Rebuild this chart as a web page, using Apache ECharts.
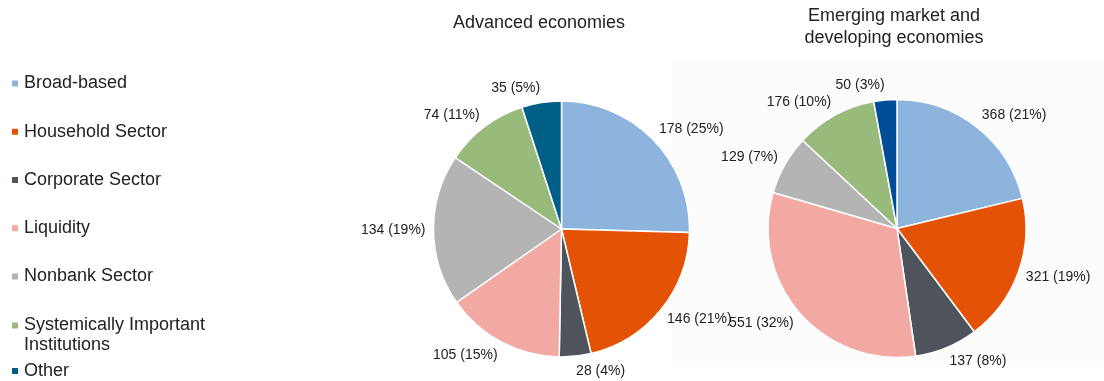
<!DOCTYPE html>
<html>
<head>
<meta charset="utf-8">
<script src="https://cdn.jsdelivr.net/npm/echarts@6/dist/echarts.min.js"></script>
<style>
  html, body { margin: 0; padding: 0; background: #ffffff; }
  #chart { width: 1104px; height: 381px; }
</style>
</head>
<body>
<div id="chart"></div>
<script>
// Macroprudential measures by type
const categories = [
  'Broad-based',
  'Household Sector',
  'Corporate Sector',
  'Liquidity',
  'Nonbank Sector',
  'Systemically Important Institutions',
  'Other'
];
const advancedValues = [178, 146, 28, 105, 134, 74, 35];
const emergingValues = [368, 321, 137, 551, 129, 176, 50];

const advancedColors = ['#8cb4dc', '#e35205', '#4f535c', '#f2a8a3', '#b3b4b3', '#98ba7b', '#005f87'];
const emergingColors = ['#8cb4dc', '#e35205', '#4f535c', '#f2a8a3', '#b3b4b3', '#98ba7b', '#004c97'];

const FONT = '"Liberation Sans", Arial, sans-serif';
const TEXT = '#222222';
const LABEL_LEN = 8;

const chart = echarts.init(document.getElementById('chart'), null, { renderer: 'canvas' });

function buildData(values, colors) {
  return categories.map((name, i) => ({
    name: name,
    value: values[i],
    itemStyle: { color: colors[i] }
  }));
}

function pieSeries(name, values, colors, center, radius) {
  return {
    type: 'pie',
    name: name,
    center: center,
    radius: radius,
    startAngle: 90,
    clockwise: true,
    avoidLabelOverlap: false,
    silent: true,
    data: buildData(values, colors),
    itemStyle: { borderColor: '#ffffff', borderWidth: 1.5 },
    label: {
      show: true,
      position: 'outside',
      alignTo: 'none',
      distanceToLabelLine: 0,
      color: TEXT,
      fontFamily: FONT,
      fontSize: 14,
      formatter: p => p.value + ' (' + Math.round(p.percent) + '%)'
    },
    labelLine: { show: false, length: LABEL_LEN, length2: 0 },
    // push each label outward so its box edge, not its middle, sits at the anchor
    labelLayout: function (p) {
      const rc = p.labelRect;
      const s = (rc.y + rc.height / 2 - center[1]) / (radius + LABEL_LEN);
      return { dy: s * rc.height / 2 };
    },
    emphasis: { disabled: true }
  };
}

const legendText = { color: TEXT, fontFamily: FONT, fontSize: 18, lineHeight: 20 };
const legendBase = {
  orient: 'vertical',
  left: 10,
  padding: 0,
  icon: 'rect',
  itemWidth: 8,
  itemHeight: 8,
  selectedMode: false,
  textStyle: legendText
};

const option = {
  animation: false,
  backgroundColor: '#ffffff',
  graphic: [
    {
      type: 'rect',
      z: -10,
      shape: { x: 672, y: 60, width: 432, height: 306 },
      style: { fill: '#fcfcfc' },
      silent: true
    },
    {
      type: 'text',
      x: 539, y: 23,
      style: {
        text: 'Advanced economies',
        fill: TEXT, font: '18px ' + FONT,
        textAlign: 'center', textVerticalAlign: 'middle'
      }
    },
    {
      type: 'text',
      x: 894, y: 27,
      style: {
        text: 'Emerging market and\ndeveloping economies',
        fill: TEXT, font: '18px ' + FONT, lineHeight: 22,
        textAlign: 'center', textVerticalAlign: 'middle'
      }
    }
  ],
  legend: [
    Object.assign({}, legendBase, {
      top: 73.5,
      itemGap: 28.25,
      data: categories.slice(0, 5)
    }),
    // two-line entry: a leading blank line keeps the marker beside the first line
    Object.assign({}, legendBase, {
      top: 295.5,
      data: [categories[5]],
      formatter: () => '\nSystemically Important\nInstitutions'
    }),
    Object.assign({}, legendBase, {
      top: 361,
      data: [categories[6]]
    })
  ],
  series: [
    pieSeries('Advanced economies', advancedValues, advancedColors, [561.5, 229], 128),
    pieSeries('Emerging market and developing economies', emergingValues, emergingColors, [897, 228.5], 129)
  ]
};

chart.setOption(option);
</script>
</body>
</html>
